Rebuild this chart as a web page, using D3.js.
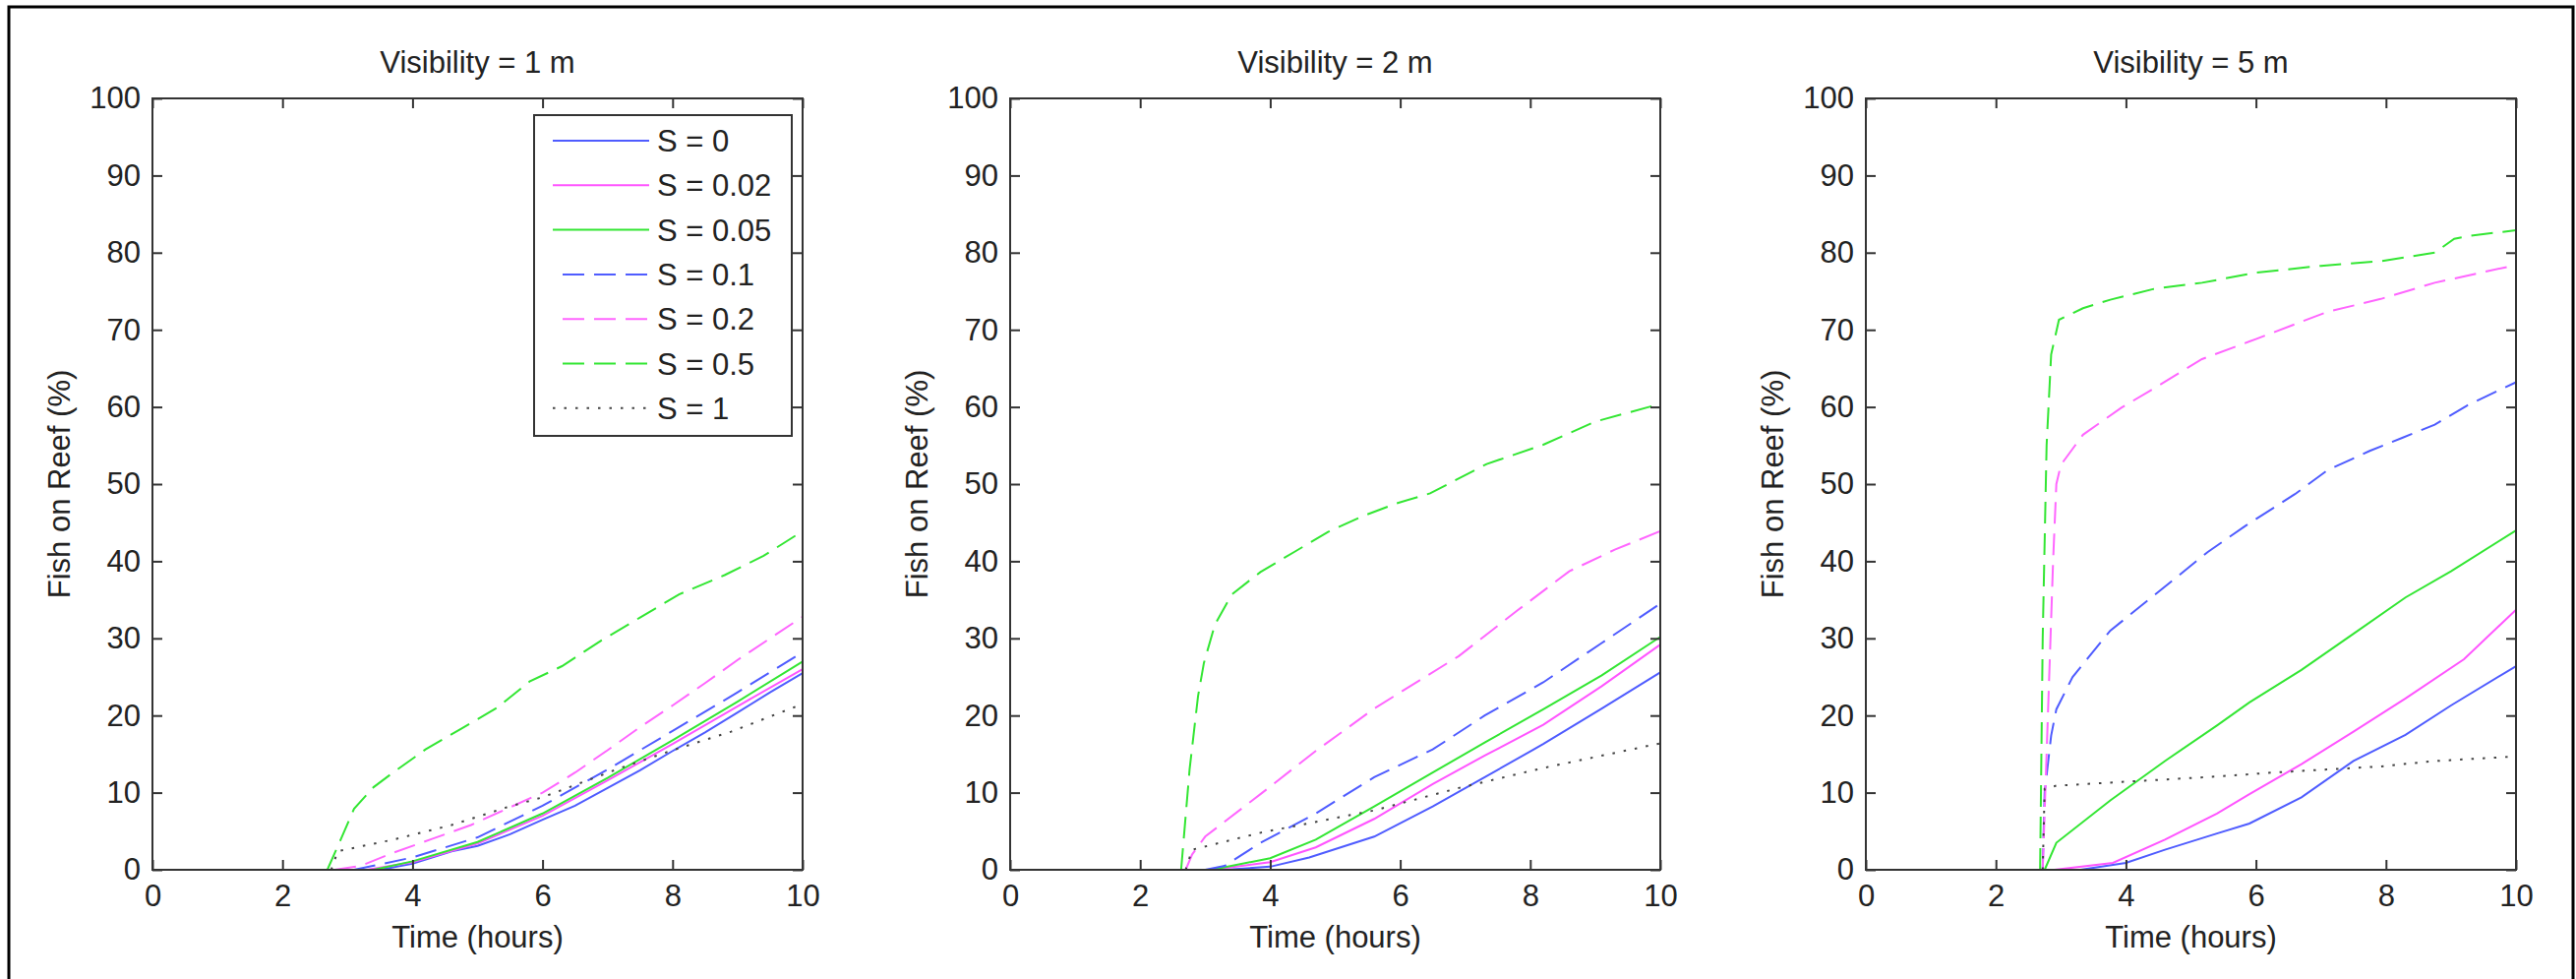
<!DOCTYPE html>
<html>
<head>
<meta charset="utf-8">
<script src="https://cdn.jsdelivr.net/npm/d3@7"></script>
<style>
  body { margin: 0; background: #fff; }
  svg { display: block; }
  text { font-family: "Liberation Sans", Arial, Helvetica, sans-serif; }
</style>
</head>
<body>
<div id="chart"></div>
<script>
// ---- data ----
const panelTitles = ['Visibility = 1 m', 'Visibility = 2 m', 'Visibility = 5 m'];
const seriesLabels = ['S = 0', 'S = 0.02', 'S = 0.05', 'S = 0.1', 'S = 0.2', 'S = 0.5', 'S = 1'];
const xTicks = [0, 2, 4, 6, 8, 10];
const yTicks = [0, 10, 20, 30, 40, 50, 60, 70, 80, 90, 100];

// Visibility = 1 m   [time (hours), fish on reef (%)]
const vis1_S0    = [[2.7,0],[3.5,0],[4,0.8],[4.6,2.4],[5,3.1],[5.5,4.6],[6,6.5],[6.5,8.3],[7,10.6],[7.5,12.9],[8,15.4],[8.5,17.8],[9,20.4],[9.5,23],[10,25.5]];
const vis1_S002  = [[2.7,0],[3.3,0],[4,1],[5,3.4],[6,7],[7,11.6],[8,16.3],[9,21.2],[10,26]];
const vis1_S005  = [[2.7,0],[3.4,0],[4,1.1],[5,3.6],[6,7.3],[7,11.9],[8,16.8],[9,21.8],[10,27]];
const vis1_S01   = [[3.1,0],[4,1.6],[5,4.2],[6,8.3],[7,13],[8,18],[9,23],[10,28.2]];
const vis1_S02   = [[2.8,0],[3.2,0.5],[3.7,2.2],[4.3,4],[4.9,5.8],[5.5,8.1],[6,10],[6.5,12.6],[7,15.5],[7.5,18.5],[8,21.3],[8.5,24.2],[9,27.2],[9.5,30],[10,32.8]];
const vis1_S05   = [[2.69,0],[2.9,4],[3.1,7.9],[3.4,10.7],[3.7,12.6],[4.2,15.6],[4.75,18.3],[5.3,21],[5.8,24.4],[6.3,26.4],[6.9,29.7],[7.5,32.7],[8.1,35.7],[8.8,38.2],[9.4,40.7],[10,43.9]];
const vis1_S1    = [[2.75,0],[2.85,2.4],[3.7,3.9],[4.6,5.8],[5.45,8.1],[6,9.4],[7.2,13.2],[8,15.5],[8.9,17.9],[10,21.5]];

// Visibility = 2 m
const vis2_S0    = [[3.3,0],[4,0.4],[4.6,1.6],[5.6,4.3],[6.5,8.2],[7.3,12],[8.2,16.3],[9.1,20.9],[10,25.6]];
const vis2_S002  = [[3.1,0],[4,1],[4.7,2.9],[5.6,6.6],[6.5,11.1],[7.3,14.8],[8.2,18.8],[9.1,23.8],[10,29.2]];
const vis2_S005  = [[3.1,0],[4,1.5],[4.7,3.9],[5.6,8.2],[6.5,12.6],[7.3,16.5],[8.2,20.8],[9.1,25.2],[10,30.2]];
const vis2_S01   = [[3.0,0],[3.3,0.5],[3.85,3.5],[4.7,7.3],[5.6,12],[6.5,15.6],[7.3,20],[8.2,24.3],[9.1,29.4],[10,34.5]];
const vis2_S02   = [[2.7,0],[2.8,2],[3.0,4.3],[3.85,9.8],[4.7,15.4],[5.6,20.9],[6,23],[6.9,27.7],[7.8,33.6],[8.6,38.7],[9.3,41.5],[10,43.9]];
const vis2_S05   = [[2.63,0],[2.68,5],[2.76,13],[2.89,22.5],[2.98,26.8],[3.15,31.8],[3.41,35.7],[3.85,38.6],[4.37,41.2],[4.89,43.8],[5.41,45.8],[5.94,47.5],[6.46,48.8],[7.33,52.6],[8.2,55.1],[9.0,58.1],[10,60.4]];
const vis2_S1    = [[2.7,0],[2.8,2.6],[3.85,4.8],[5.6,7.7],[6.9,10.6],[8.2,13.2],[10,16.4]];

// Visibility = 5 m
const vis5_S0    = [[3.3,0],[4,0.9],[4.6,2.6],[5.4,4.7],[5.9,6],[6.7,9.4],[7.5,14.1],[8.3,17.5],[9,21.3],[10,26.4]];
const vis5_S002  = [[2.9,0],[3.8,0.9],[4.6,3.9],[5.4,7.3],[5.9,9.8],[6.7,13.7],[7.5,17.9],[8.3,22.2],[9.2,27.3],[10,33.7]];
const vis5_S005  = [[2.75,0],[2.93,3.5],[3.76,9],[4.6,14.1],[5.4,18.7],[5.9,21.7],[6.7,25.9],[7.5,30.6],[8.3,35.3],[9,38.7],[10,44]];
const vis5_S01   = [[2.72,0],[2.75,10],[2.85,17.4],[2.93,20.8],[3.18,25],[3.43,27.6],[3.76,31],[4.26,34.4],[4.76,37.8],[5.26,41.2],[5.84,44.6],[6.6,48.7],[7.1,51.8],[7.75,54.3],[8.25,56],[8.75,57.7],[9.25,60.2],[10,63.2]];
const vis5_S02   = [[2.72,0],[2.8,20],[2.88,40],[2.93,50],[3.0,52.5],[3.34,56.4],[3.93,59.9],[4.43,62.4],[5.17,66.2],[6,68.8],[7.09,72.3],[7.92,74],[8.75,76.1],[10,78.4]];
const vis5_S05   = [[2.68,0],[2.72,30],[2.78,55],[2.85,66.8],[2.97,71.3],[3.34,72.8],[3.76,73.9],[4.43,75.3],[5.17,76.1],[6,77.4],[7,78.3],[7.92,78.9],[8.75,80],[9.05,81.8],[9.3,82.2],[10,82.9]];
const vis5_S1    = [[2.72,0],[2.75,10.5],[2.93,10.9],[3.76,11.3],[4.59,11.7],[5.42,12.1],[6.25,12.6],[7.09,13],[7.92,13.4],[8.75,14.1],[10,14.7]];

const vis1 = [vis1_S0, vis1_S002, vis1_S005, vis1_S01, vis1_S02, vis1_S05, vis1_S1];
const vis2 = [vis2_S0, vis2_S002, vis2_S005, vis2_S01, vis2_S02, vis2_S05, vis2_S1];
const vis5 = [vis5_S0, vis5_S002, vis5_S005, vis5_S01, vis5_S02, vis5_S05, vis5_S1];
const panels = [vis1, vis2, vis5];

// ---- styles ----
const seriesColors = ['#4f5cff', '#ff55ff', '#33e633', '#4f5cff', '#ff66ff', '#33e633', '#444'];
const seriesDash = [null, null, null, '22,10', '22,10', '22,10', '2.5,9'];

const W = 2619, H = 995;
const panelLefts = [155, 1027, 1897];
const plotTop = 100, plotW = 661, plotH = 784;
const fontSize = 31;
const ink = '#222';
const axisInk = '#333';

const svg = d3.select('#chart').append('svg')
  .attr('width', W)
  .attr('height', H);

svg.append('rect').attr('width', W).attr('height', H).attr('fill', '#fff');

// outer frame (no bottom edge)
svg.append('path')
  .attr('d', `M9,${H} L9,7 L2616,7 L2616,${H}`)
  .attr('fill', 'none')
  .attr('stroke', '#000')
  .attr('stroke-width', 3);

const x = d3.scaleLinear().domain([0, 10]).range([0, plotW]);
const y = d3.scaleLinear().domain([0, 100]).range([plotH, 0]);

const line = d3.line()
  .x(d => x(d[0]))
  .y(d => y(d[1]));

function styleAxis(g) {
  g.select('.domain').remove();
  g.selectAll('.tick line').attr('stroke', axisInk).attr('stroke-width', 2);
  g.selectAll('.tick text')
    .attr('fill', ink)
    .style('font-size', fontSize + 'px');
}

panels.forEach((series, p) => {
  const g = svg.append('g')
    .attr('transform', `translate(${panelLefts[p]},${plotTop})`);

  // data lines
  series.forEach((pts, i) => {
    g.append('path')
      .datum(pts)
      .attr('d', line)
      .attr('fill', 'none')
      .attr('stroke', seriesColors[i])
      .attr('stroke-width', 2)
      .attr('stroke-dasharray', seriesDash[i]);
  });

  // axes, ticks pointing inward on all four sides
  g.append('g')
    .attr('transform', `translate(0,${plotH})`)
    .call(d3.axisBottom(x).tickValues(xTicks).tickSizeInner(-10).tickSizeOuter(0).tickPadding(15))
    .call(styleAxis);
  g.append('g')
    .call(d3.axisTop(x).tickValues(xTicks).tickSizeInner(-10).tickSizeOuter(0).tickFormat(''))
    .call(styleAxis);
  g.append('g')
    .call(d3.axisLeft(y).tickValues(yTicks).tickSizeInner(-10).tickSizeOuter(0).tickPadding(12))
    .call(styleAxis);
  g.append('g')
    .attr('transform', `translate(${plotW},0)`)
    .call(d3.axisRight(y).tickValues(yTicks).tickSizeInner(-10).tickSizeOuter(0).tickFormat(''))
    .call(styleAxis);

  g.append('rect')
    .attr('width', plotW)
    .attr('height', plotH)
    .attr('fill', 'none')
    .attr('stroke', axisInk)
    .attr('stroke-width', 2);

  // title
  g.append('text')
    .attr('x', plotW / 2)
    .attr('y', -26)
    .attr('text-anchor', 'middle')
    .attr('fill', ink)
    .style('font-size', fontSize + 'px')
    .text(panelTitles[p]);

  // x label
  g.append('text')
    .attr('x', plotW / 2)
    .attr('y', plotH + 79)
    .attr('text-anchor', 'middle')
    .attr('fill', ink)
    .style('font-size', fontSize + 'px')
    .text('Time (hours)');

  // y label
  g.append('text')
    .attr('transform', `translate(-84,${plotH / 2}) rotate(-90)`)
    .attr('text-anchor', 'middle')
    .attr('fill', ink)
    .style('font-size', fontSize + 'px')
    .text('Fish on Reef (%)');

  // legend only in the first panel
  if (p === 0) {
    const lg = g.append('g').attr('transform', 'translate(388,17)');
    lg.append('rect')
      .attr('width', 262)
      .attr('height', 326)
      .attr('fill', '#fff')
      .attr('stroke', axisInk)
      .attr('stroke-width', 2);
    seriesLabels.forEach((label, i) => {
      const ly = 26 + i * 45.3;
      lg.append('line')
        .attr('x1', seriesDash[i] && i < 6 ? 29 : 19)
        .attr('x2', 117)
        .attr('y1', ly)
        .attr('y2', ly)
        .attr('stroke', seriesColors[i])
        .attr('stroke-width', 2)
        .attr('stroke-dasharray', seriesDash[i]);
      lg.append('text')
        .attr('x', 125)
        .attr('y', ly)
        .attr('dy', '0.36em')
        .attr('fill', ink)
        .style('font-size', fontSize + 'px')
        .text(label);
    });
  }
});
</script>
</body>
</html>
